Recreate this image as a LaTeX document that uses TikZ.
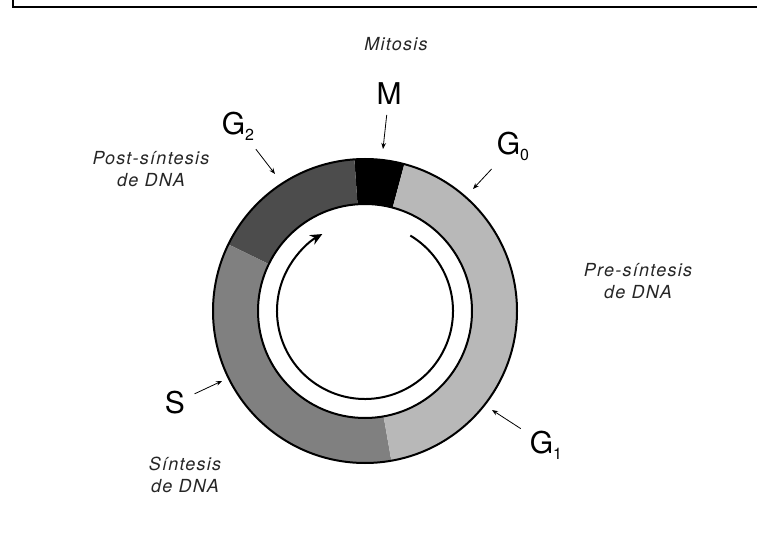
\documentclass[tikz,border=0pt]{standalone}
\usepackage{fontspec}
\setmainfont{TeX Gyre Heros}
\usetikzlibrary{arrows.meta}

\newcommand{\phasesub}[1]{\raisebox{-0.2em}{\fontsize{12}{12}\selectfont #1}}

\begin{document}
\begin{tikzpicture}[x=0.75pt,y=0.75pt,
  phase/.style={font=\fontsize{22.5}{24}\selectfont},
  note/.style={font=\fontsize{13.5}{16}\selectfont\itshape\addfontfeatures{LetterSpace=7},
    align=center, text=black!85},
  pointer/.style={-{Stealth[length=4.5pt,width=3.5pt]}, line width=0.6pt, shorten <=4pt},
  ring/.style={line width=1.5pt}]
\useasboundingbox (0,0) rectangle (757,536);
% frame
\draw[line width=1.5pt] (13,536) -- (13,528.5) -- (757,528.5);

\coordinate (ctr) at (365,225);
% phases of the ring
\fill[black] ([shift={(75:152)}]ctr) arc[start angle=75, end angle=94, radius=152]
  -- ([shift={(94:107)}]ctr) arc[start angle=94, end angle=75, radius=107] -- cycle;
\fill[black!70] ([shift={(94:152)}]ctr) arc[start angle=94, end angle=154, radius=152]
  -- ([shift={(154:107)}]ctr) arc[start angle=154, end angle=94, radius=107] -- cycle;
\fill[black!50] ([shift={(154:152)}]ctr) arc[start angle=154, end angle=280, radius=152]
  -- ([shift={(280:107)}]ctr) arc[start angle=280, end angle=154, radius=107] -- cycle;
\fill[black!28] ([shift={(280:152)}]ctr) arc[start angle=280, end angle=435, radius=152]
  -- ([shift={(435:107)}]ctr) arc[start angle=435, end angle=280, radius=107] -- cycle;
\draw[ring] (ctr) circle[radius=152];
\draw[ring] (ctr) circle[radius=107];

% cycle arrow
\draw[ring, -{Stealth[length=9pt,width=8pt]}] ([shift={(59:88)}]ctr)
  arc[start angle=59, end angle=-241, radius=88];

% labels
\node[note] (mitosis) at (396,492) {Mitosis};
\node[phase] (M) at (389,442) {M};
\node[phase] (G2) at (238,410) {G\phasesub{2}};
\node[phase] (G0) at (513,390) {G\phasesub{0}};
\node[phase] (S) at (175,133) {S};
\node[phase] (G1) at (546,91) {G\phasesub{1}};
\node[note] (post) at (151,367) {Post-síntesis\\de DNA};
\node[note] (pre) at (638,255) {Pre-síntesis\\de DNA};
\node[note] (sint) at (185,61) {Síntesis\\de DNA};

\coordinate (tipM) at (383,387);
\coordinate (tipG2) at (275,362);
\coordinate (tipG0) at (473,347);
\coordinate (tipS) at (222,155);
\coordinate (tipG1) at (492,126);
\draw[pointer] (M) -- (tipM);
\draw[pointer] (G2) -- (tipG2);
\draw[pointer] (G0) -- (tipG0);
\draw[pointer] (S) -- (tipS);
\draw[pointer] (G1) -- (tipG1);
\end{tikzpicture}
\end{document}
